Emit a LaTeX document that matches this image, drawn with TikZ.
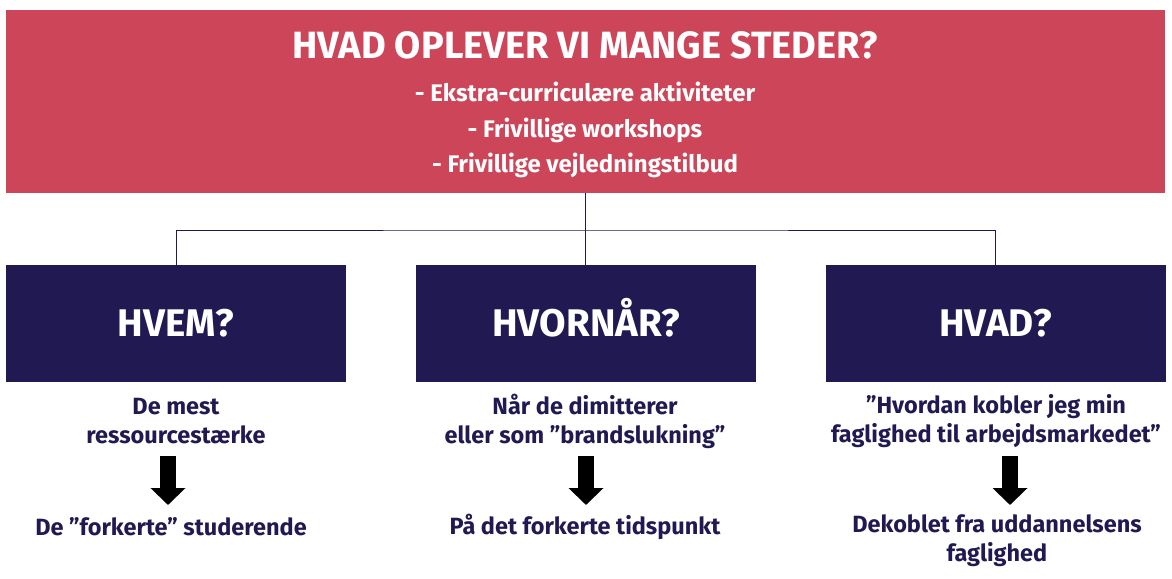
\documentclass[tikz,border=0pt]{standalone}
\usepackage{fontspec}
\setmainfont{Fira Sans}
\usepackage{xcolor}
\usepackage{tikz}
\usetikzlibrary{positioning}
\usetikzlibrary{arrows.meta}
\definecolor{bannerred}{HTML}{CC4559}
\definecolor{navy}{HTML}{211A52}
\begin{document}
\begin{tikzpicture}[
	x=1pt,y=-1pt,
	font=\bfseries
]
\tikzset{
    mybanner/.style = {rectangle, fill=bannerred, minimum width=1159pt, minimum height=183pt, inner sep=0pt},
    mybox/.style = {rectangle, fill=navy, text=white, minimum width=340pt, minimum height=117pt, inner sep=0pt, text height=26.5pt, text depth=0pt, font=\bfseries\fontsize{38.5}{40}\selectfont},
    mytitle/.style = {text=white, inner sep=0pt, font=\bfseries\fontsize{38}{40}\selectfont},
    mybullet/.style = {text=white, inner sep=0pt, anchor=base, font=\bfseries\fontsize{24}{28}\selectfont},
    mytext/.style = {text=navy, align=center, inner sep=0pt, font=\bfseries\fontsize{23.5}{29}\selectfont},
    mylink/.style = {draw=navy, line width=1pt},
    myarrow/.style = {draw=black, line width=16pt, -{Triangle[width=34pt,length=17pt]}}
}
\useasboundingbox (0,0) rectangle (1172,578);
\node[mybanner] (banner) at (585.5,101.5) {};
\node[mytitle] (title) at (585,45) {HVAD OPLEVER VI MANGE STEDER?};
\node[mybullet] (ekstra) at (585,101.5) {- Ekstra-curriculære aktiviteter};
\node[mybullet] (workshops) at (585,137.5) {- Frivillige workshops};
\node[mybullet] (vejledning) at (585,172.5) {- Frivillige vejledningstilbud};
\node[mybox] (hvem) at (176,323.5) {HVEM?};
\node[mybox] (hvornaar) at (586,323.5) {HVORNÅR?};
\node[mybox] (hvad) at (995.5,323.5) {HVAD?};
\coordinate (split) at (585.5,230);
\draw[mylink,line width=1.6pt] (banner.south) -- (split);
\draw[mylink] (hvem.north) |- (split) -| (hvad.north);
\draw[mylink] (split) -- (hvornaar.north -| split);
\node[mytext] (hvemtop) at (176,421) {De mest\\ressourcestærke};
\node[mytext] (hvemend) at (171,527) {De ”forkerte” studerende};
\node[mytext] (naartop) at (585,421) {Når de dimitterer\\eller som ”brandslukning”};
\node[mytext] (naarend) at (585,527) {På det forkerte tidspunkt};
\node[mytext] (hvadtop) at (996,421) {”Hvordan kobler jeg min\\faglighed til arbejdsmarkedet”};
\node[mytext] (hvadend) at (997,541) {Dekoblet fra uddannelsens\\faglighed};
\coordinate (hvemfrom) at (168,456);
\coordinate (hvemto) at (168,505);
\coordinate (naarfrom) at (586,456);
\coordinate (naarto) at (586,505);
\coordinate (hvadfrom) at (1010,456);
\coordinate (hvadto) at (1010,505);
\draw[myarrow] (hvemfrom) -- (hvemto);
\draw[myarrow] (naarfrom) -- (naarto);
\draw[myarrow] (hvadfrom) -- (hvadto);
\end{tikzpicture}
\end{document}
